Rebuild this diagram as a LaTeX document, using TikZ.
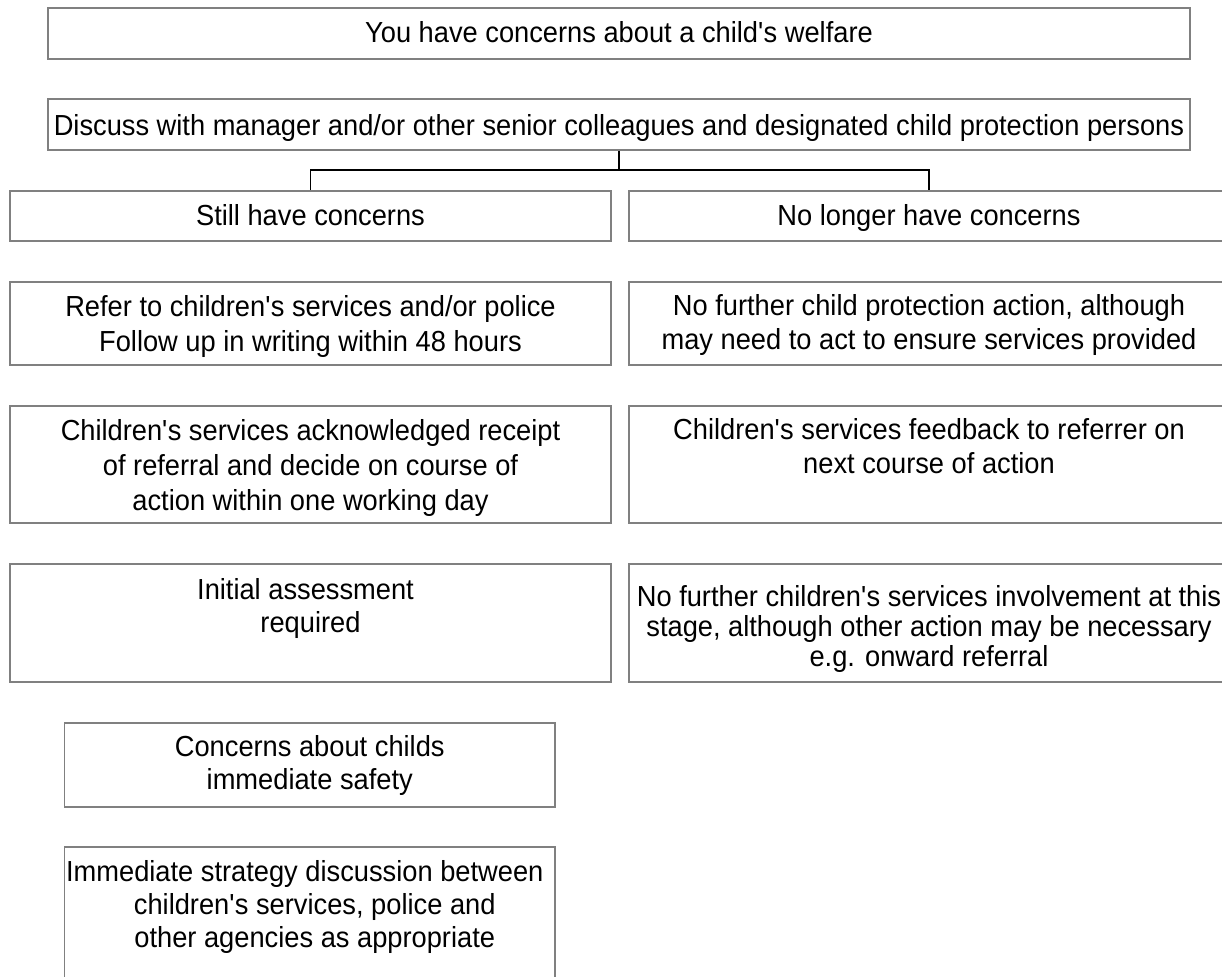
\documentclass[tikz,border=0pt]{standalone}
\usepackage{fontspec}
\setmainfont{Liberation Sans}[FakeStretch=0.94]
\newcommand\ap{\textquotesingle}
\definecolor{boxgray}{RGB}{128,128,128}
\tikzset{
  box/.style={draw=boxgray, line width=1.6pt, inner sep=0pt, fill=white},
  txt/.style={anchor=north, inner sep=0pt, align=center, text=black},
  fs/.style={font=\fontsize{29}{#1}\selectfont},
  conn/.style={draw=black, line width=1.4pt},
}
\begin{document}
\begin{tikzpicture}[x=1pt,y=-1pt]
\useasboundingbox (0,0) rectangle (1222,976);
\fill[white] (0,0) rectangle (1222,976);
\clip (0,0) rectangle (1222,976);

% boxes
\node[box, minimum width=1142pt, minimum height=51pt] (b1) at (619,33.5) {};
\node[box, minimum width=1142pt, minimum height=51pt] (discuss) at (619,124.5) {};
\node[box, minimum width=601pt, minimum height=50pt] (still) at (310.5,216) {};
\node[box, minimum width=600pt, minimum height=50pt] (nolonger) at (929,216) {};
\node[box, minimum width=601pt, minimum height=83pt] (refer) at (310.5,323.5) {};
\node[box, minimum width=600pt, minimum height=83pt] (nfcp) at (929,323.5) {};
\node[box, minimum width=601pt, minimum height=117pt] (ack) at (310.5,464.5) {};
\node[box, minimum width=600pt, minimum height=117pt] (feedback) at (929,464.5) {};
\node[box, minimum width=601pt, minimum height=118pt] (initial) at (310.5,623) {};
\node[box, minimum width=600pt, minimum height=118pt] (nfcs) at (929,623) {};
\node[box, minimum width=490.5pt, minimum height=84pt] (concerns) at (309.75,765) {};
\node[box, minimum width=490.5pt, minimum height=143pt] (immediate) at (309.75,918.5) {};

% texts
\node[txt, fs=33] (b1t) at (619,21.5) {You have concerns about a child\ap s welfare};
\node[txt, fs=33] (discusst) at (619,113.8) {Discuss with manager and/or other senior colleagues and designated child protection persons};
\node[txt, fs=33] (stillt) at (310.5,203.8) {Still have concerns};
\node[txt, fs=33] (nolongert) at (929,203.8) {No longer have concerns};
\node[txt, fs=35] (refert) at (310.5,294.8) {Refer to children\ap s services and/or police\\Follow up in writing within 48 hours};
\node[txt, fs=34] (nfcpt) at (929,293.8) {No further child protection action, although\\may need to act to ensure services provided};
\node[txt, fs=35] (ackt) at (310.5,418.8) {Children\ap s services acknowledged receipt\\of referral and decide on course of\\action within one working day};
\node[txt, fs=34] (feedbackt) at (929,417.8) {Children\ap s services feedback to referrer on\\next course of action};
\node[txt, fs=33] (initialt) at (310.5,577.8) {Initial assessment\hspace*{10pt}\\required};
\node[txt, fs=30] (nfcst) at (929,585.5) {No further children\ap s services involvement at this\\stage, although other action may be necessary\\e.g. onward referral};
\node[txt, fs=33] (concernst) at (309.75,735.5) {Concerns about childs\\immediate safety};
\node[txt, fs=33] (immediatet) at (309.75,860.5) {Immediate strategy discussion between\hspace*{10pt}\\\hspace*{10pt}children\ap s services, police and\\\hspace*{10pt}other agencies as appropriate};

% connectors
\coordinate (j) at (619,170);
\draw[conn] (discuss.south) -- (j);
\draw[conn] (still.north) |- (j) -| (nolonger.north);
\end{tikzpicture}
\end{document}
